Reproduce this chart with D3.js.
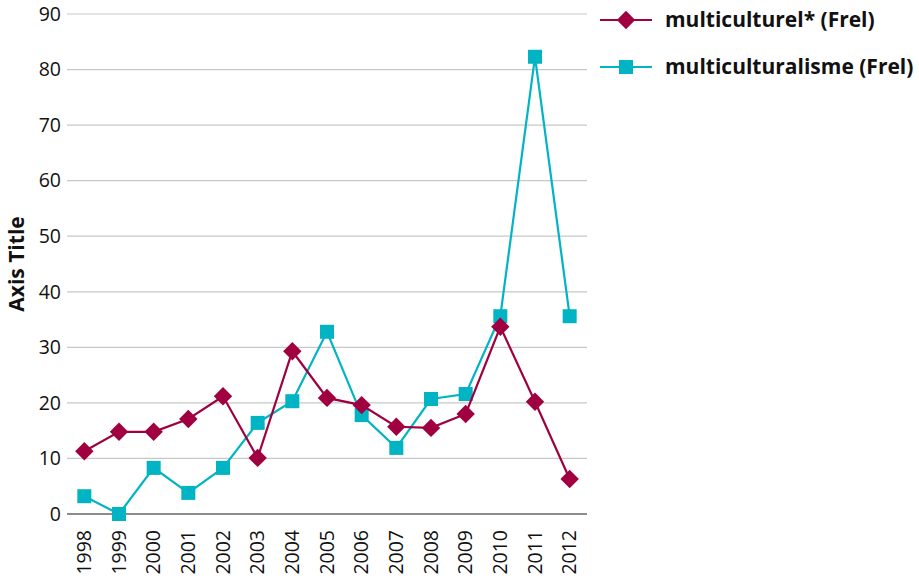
<!DOCTYPE html>
<html>
<head>
<meta charset="utf-8">
<script src="https://cdn.jsdelivr.net/npm/d3@7"></script>
<style>
  html, body { margin: 0; padding: 0; background: #fff; }
  svg { display: block; font-family: "Open Sans", "Noto Sans", sans-serif; }
</style>
</head>
<body>
<svg id="chart" width="919" height="580"></svg>
<script>
const years = ["1998","1999","2000","2001","2002","2003","2004","2005","2006","2007","2008","2009","2010","2011","2012"];
const multiculturel = [11.3, 14.8, 14.8, 17.1, 21.2, 10.1, 29.3, 20.9, 19.6, 15.7, 15.5, 18.0, 33.7, 20.2, 6.3];
const multiculturalisme = [3.2, 0.0, 8.3, 3.8, 8.3, 16.4, 20.3, 32.8, 17.8, 11.9, 20.7, 21.6, 35.6, 82.3, 35.6];
const yTicks = [0, 10, 20, 30, 40, 50, 60, 70, 80, 90];
const seriesNames = ["multiculturel* (Frel)", "multiculturalisme (Frel)"];

(function () {
const colors = ["#a0003f", "#00b4c4"];
const svg = d3.select("#chart");
const plotLeft = 67, plotRight = 587, plotTop = 14, plotBottom = 514;

const x = d3.scalePoint().domain(years).range([plotLeft, plotRight]).padding(0.5);
const y = d3.scaleLinear().domain([0, 90]).range([plotBottom, plotTop]);

// horizontal gridlines
svg.append("g").selectAll("line").data(yTicks).join("line")
  .attr("x1", plotLeft).attr("x2", plotRight)
  .attr("y1", d => y(d)).attr("y2", d => y(d))
  .attr("stroke", d => d === 0 ? "#8c8c8c" : "#c8c8c8")
  .attr("stroke-width", d => d === 0 ? 2 : 1.2);

// y tick labels
svg.append("g").selectAll("text").data(yTicks).join("text")
  .attr("x", plotLeft - 6).attr("y", d => y(d))
  .attr("dy", "0.35em").attr("text-anchor", "end")
  .attr("font-size", 19.5).attr("fill", "#111")
  .text(d => d);

// x tick labels, rotated
svg.append("g").selectAll("text").data(years).join("text")
  .attr("transform", d => `translate(${x(d)},${plotBottom + 16}) rotate(-90)`)
  .attr("dy", "0.35em").attr("text-anchor", "end")
  .attr("font-size", 19.5).attr("fill", "#111")
  .text(d => d);

// y axis title
svg.append("text")
  .attr("transform", `translate(17,${(plotTop + plotBottom) / 2}) rotate(-90)`)
  .attr("text-anchor", "middle").attr("dy", "0.35em")
  .attr("font-size", 21).attr("font-weight", "bold").attr("fill", "#111")
  .text("Axis Title");

const line = d3.line().x((d, i) => x(years[i])).y(d => y(d));

function drawSeries(values, color, shape) {
  const g = svg.append("g");
  g.append("path").datum(values)
    .attr("d", line).attr("fill", "none")
    .attr("stroke", color).attr("stroke-width", 2.2);
  if (shape === "diamond") {
    g.selectAll("rect").data(values).join("rect")
      .attr("x", -6.5).attr("y", -6.5).attr("width", 13).attr("height", 13)
      .attr("transform", (d, i) => `translate(${x(years[i])},${y(d)}) rotate(45)`)
      .attr("fill", color);
  } else {
    g.selectAll("rect").data(values).join("rect")
      .attr("x", (d, i) => x(years[i]) - 7).attr("y", d => y(d) - 7)
      .attr("width", 14).attr("height", 14)
      .attr("fill", color);
  }
}
drawSeries(multiculturalisme, colors[1], "square");
drawSeries(multiculturel, colors[0], "diamond");

// legend
const legend = svg.append("g");
[[seriesNames[0], colors[0], "diamond", 20], [seriesNames[1], colors[1], "square", 67]].forEach(([name, color, shape, ly]) => {
  legend.append("line").attr("x1", 600).attr("x2", 652).attr("y1", ly).attr("y2", ly)
    .attr("stroke", color).attr("stroke-width", 2.2);
  if (shape === "diamond") {
    legend.append("rect").attr("x", -6.5).attr("y", -6.5).attr("width", 13).attr("height", 13)
      .attr("transform", `translate(626,${ly}) rotate(45)`).attr("fill", color);
  } else {
    legend.append("rect").attr("x", 619).attr("y", ly - 7).attr("width", 14).attr("height", 14)
      .attr("fill", color);
  }
  legend.append("text").attr("x", 665).attr("y", ly).attr("dy", "0.35em")
    .attr("font-size", 21).attr("font-weight", "bold").attr("fill", "#111")
    .text(name);
});
})();
</script>
</body>
</html>
